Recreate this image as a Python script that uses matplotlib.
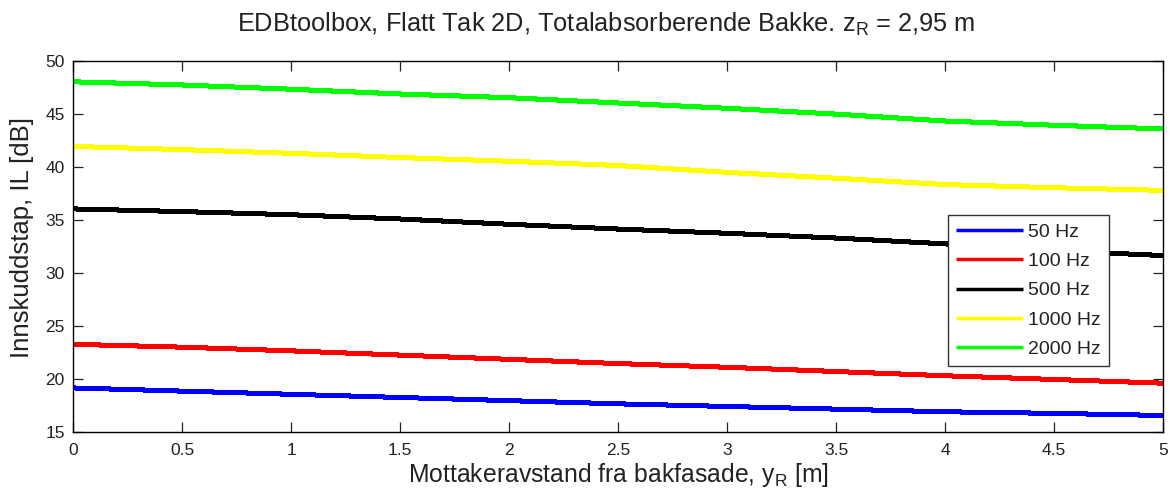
import matplotlib
matplotlib.use("Agg")
import matplotlib.pyplot as plt

plt.rcParams['font.family'] = ['Liberation Sans', 'DejaVu Sans']
plt.rcParams['font.size'] = 12

# receiver distance from rear facade [m]
y_r = [0.0, 0.5, 1.0, 1.5, 2.0, 2.5, 3.0, 3.5, 4.0, 4.5, 5.0]

# insertion loss [dB] per frequency band
il_50 = [19.15, 18.85, 18.55, 18.25, 17.95, 17.65, 17.4, 17.15, 16.9, 16.75, 16.55]
il_100 = [23.27, 23.0, 22.65, 22.25, 21.85, 21.45, 21.1, 20.7, 20.3, 19.95, 19.6]
il_500 = [36.05, 35.8, 35.5, 35.1, 34.6, 34.15, 33.75, 33.3, 32.75, 32.1, 31.65]
il_1000 = [41.95, 41.65, 41.3, 40.9, 40.55, 40.15, 39.5, 38.95, 38.35, 38.05, 37.8]
il_2000 = [48.05, 47.75, 47.35, 46.9, 46.55, 46.05, 45.55, 45.0, 44.35, 43.95, 43.6]

labels = ['50 Hz', '100 Hz', '500 Hz', '1000 Hz', '2000 Hz']
colors = ['#0000ff', '#ff0000', '#000000', '#ffff00', '#00ff00']
text_col = '#222222'

fig = plt.figure(figsize=(11.7, 4.97), dpi=100)
ax = fig.add_axes([0.0624, 0.131, 0.9316, 0.746])

for vals, lab, col in zip([il_50, il_100, il_500, il_1000, il_2000], labels, colors):
    ax.plot(y_r, vals, color=col, lw=2.9, label=lab, antialiased=False,
            solid_capstyle='butt')

ax.set_xlim(0, 5)
ax.set_ylim(15, 50)
ax.set_xticks([0, 0.5, 1, 1.5, 2, 2.5, 3, 3.5, 4, 4.5, 5])
ax.set_xticklabels(['0', '0.5', '1', '1.5', '2', '2.5', '3', '3.5', '4', '4.5', '5'])
ax.set_yticks([15, 20, 25, 30, 35, 40, 45, 50])
ax.tick_params(direction='in', length=7, width=0.9, top=True, right=True,
               labelsize=12.5, colors=text_col)
ax.tick_params(axis='x', pad=8)
ax.tick_params(axis='y', pad=6)
for sp in ax.spines.values():
    sp.set_linewidth(1.0)

title = ax.set_title(r'EDBtoolbox, Flatt Tak 2D, Totalabsorberende Bakke. z$_\mathregular{R}$ = 2,95 m',
                     fontsize=18.3, pad=21, color=text_col)
title.set_x(0.489)
ax.set_xlabel(r'Mottakeravstand fra bakfasade, y$_\mathregular{R}$ [m]', fontsize=17.8,
              labelpad=2, color=text_col)
ax.set_ylabel('Innskuddstap, IL [dB]', fontsize=18.5, color=text_col)
ax.yaxis.set_label_coords(-0.036, 0.523)

leg = ax.legend(loc='upper left', bbox_to_anchor=(0.803, 0.585), borderaxespad=0,
                fancybox=False, shadow=False, framealpha=1, edgecolor='#333333',
                fontsize=14, handlelength=3.4, handletextpad=0.27, labelspacing=0.6,
                borderpad=0.42)
leg.get_frame().set_linewidth(1.0)
for h in leg.get_lines():
    h.set_linewidth(2.5)
for t in leg.get_texts():
    t.set_color(text_col)

fig.savefig('out.png', dpi=100)
